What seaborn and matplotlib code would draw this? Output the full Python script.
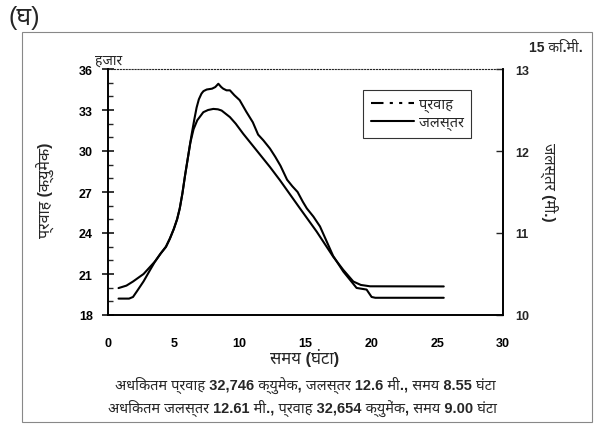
import matplotlib
matplotlib.use("Agg")
import numpy as np
import pandas as pd
import matplotlib.pyplot as plt
import seaborn as sns
from matplotlib.lines import Line2D
from matplotlib.patches import Rectangle
from matplotlib.ticker import MultipleLocator

# --- data ---
# flow in thousand cumec (left axis)
flow_time = [0.8, 1.4, 1.9, 2.7, 3.6, 4.0, 4.4, 4.7, 5.0, 5.25, 5.45, 5.65, 5.85, 6.05,
             6.25, 6.5, 6.78, 7.24, 7.6, 8.0, 8.35, 8.63, 9.26, 9.7, 10.27, 11.29, 12.3,
             13.06, 14.58, 15.85, 17.1, 17.87, 18.63, 19.2, 19.9, 25.5]
flow = [19.97, 20.15, 20.45, 21.0, 21.95, 22.5, 23.0, 23.6, 24.3, 25.0, 25.8, 26.9, 28.2, 29.4,
        30.6, 31.6, 32.25, 32.84, 33.0, 33.08, 33.05, 32.96, 32.48, 32.0, 31.26, 30.04, 28.83,
        27.86, 25.8, 24.1, 22.27, 21.3, 20.45, 20.2, 20.1, 20.09]

# water level in metres (right axis)
level_time = [0.8, 1.6, 1.9, 2.2, 2.7, 3.2, 3.6, 4.0, 4.4, 4.7, 5.0, 5.25, 5.45, 5.65, 5.85,
              6.05, 6.25, 6.35, 6.55, 6.73, 6.9, 7.1, 7.25, 7.5, 7.9, 8.15, 8.38, 8.6, 8.75,
              9.0, 9.26, 9.6, 10.0, 10.5, 11.0, 11.4, 11.8, 12.3, 12.7, 13.1, 13.6, 14.0,
              14.4, 14.8, 15.1, 15.6, 16.1, 16.6, 17.1, 17.87, 18.88, 19.64, 20.02, 20.3, 25.5]
level = [10.20, 10.20, 10.22, 10.29, 10.41, 10.55, 10.66, 10.75, 10.83, 10.93, 11.05, 11.17,
         11.30, 11.48, 11.70, 11.90, 12.10, 12.20, 12.38, 12.53, 12.63, 12.70, 12.73, 12.75,
         12.76, 12.78, 12.82, 12.78, 12.76, 12.74, 12.74, 12.68, 12.62, 12.48, 12.35, 12.20,
         12.13, 12.03, 11.93, 11.82, 11.65, 11.57, 11.50, 11.38, 11.30, 11.20, 11.08, 10.90,
         10.72, 10.53, 10.33, 10.31, 10.22, 10.21, 10.21]

x_ticks = [0, 5, 10, 15, 20, 25, 30]
flow_ticks = [18, 21, 24, 27, 30, 33, 36]
level_ticks = [10, 11, 12, 13]

note1 = "अधिकतम प्रवाह 32,746 क्युमेक, जलस्तर 12.6 मी., समय 8.55 घंटा"
note2 = "अधिकतम जलस्तर 12.61 मी., प्रवाह 32,654 क्युमेंक, समय 9.00 घंटा"

df_flow = pd.DataFrame({"time": flow_time, "flow": flow})
df_level = pd.DataFrame({"time": level_time, "level": level})

sns.set_style("white")
plt.rcParams["font.family"] = ["Liberation Sans", "Noto Sans Devanagari", "Yantramanav",
                               "DejaVu Sans"]

fig = plt.figure(figsize=(5.95, 4.27), dpi=100)
ax = fig.add_axes([108 / 595, 1 - 316 / 427, 395 / 595, 246 / 427])
ax2 = ax.twinx()

sns.lineplot(data=df_flow, x="time", y="flow", ax=ax, color="black", lw=1.5, legend=False)
sns.lineplot(data=df_level, x="time", y="level", ax=ax2, color="black", lw=1.5, legend=False)

ax.set_xlim(0, 30)
ax.set_ylim(18, 36)
ax2.set_ylim(10, 13)
ax.set_xticks(x_ticks)
ax.set_yticks(flow_ticks)
ax2.set_yticks(level_ticks)
ax.xaxis.set_minor_locator(MultipleLocator(1))
ax.yaxis.set_minor_locator(MultipleLocator(1))
ax.set_xlabel("")
ax.set_ylabel("")
ax2.set_ylabel("")

for s in ["left", "bottom", "right"]:
    for a in (ax, ax2):
        a.spines[s].set_linewidth(1.2)
        a.spines[s].set_color("black")
ax.spines["top"].set_linestyle(":")
ax.spines["top"].set_linewidth(0.8)
ax2.spines["top"].set_visible(False)

ax.tick_params(axis="both", which="major", direction="inout", length=8, width=1.1,
               labelsize=9, colors="black")
ax.tick_params(axis="both", which="minor", direction="in", length=3.5, width=1.0)
ax.tick_params(axis="x", which="both", top=False, pad=12)
ax.tick_params(axis="y", which="both", right=False, pad=7)
ax2.tick_params(axis="y", which="major", direction="in", length=5, width=1.0,
                labelsize=9, pad=9)
for lab in ax.get_xticklabels() + ax.get_yticklabels() + ax2.get_yticklabels():
    lab.set_fontweight("bold")

handles = [Line2D([], [], color="black", lw=1.5, dashes=(6, 3, 1.5, 3, 1.5, 3)),
           Line2D([], [], color="black", lw=1.5)]
leg = ax.legend(handles, ["प्रवाह", "जलस्तर"], loc="upper left",
                bbox_to_anchor=(0.628, 0.945), frameon=True, fancybox=False,
                prop={"size": 10.5, "weight": "semibold"},
                handlelength=3.0, handletextpad=0.3, borderpad=0.5, labelspacing=0.2)
leg.get_frame().set_edgecolor("black")
leg.get_frame().set_linewidth(0.8)

dev = dict(fontweight="semibold", va="center", ha="center")
fig.text(8 / 595, 1 - 18 / 427, "(घ)", fontsize=18, va="center", ha="left")
fig.text(109 / 595, 1 - 61 / 427, "हजार", fontsize=10, **dev)
fig.text(556 / 595, 1 - 48 / 427, "15 कि.मी.", fontsize=10, **dev)
fig.text(46 / 595, 1 - 190 / 427, "प्रवाह (क्युमेक)", fontsize=11.5, rotation=90, **dev)
fig.text(549 / 595, 1 - 182 / 427, "जलस्तर (मी.)", fontsize=11, rotation=-90, **dev)
fig.text(305 / 595, 1 - 358 / 427, "समय (घंटा)", fontsize=12, **dev)
fig.text(305 / 595, 1 - 385 / 427, note1, fontsize=10.5, **dev)
fig.text(302 / 595, 1 - 408 / 427, note2, fontsize=10.5, **dev)

fig.patches.append(Rectangle((22 / 595, 1 - 423 / 427), 570 / 595, 390 / 427,
                             transform=fig.transFigure, fill=False, edgecolor="#888888",
                             lw=0.8))

fig.savefig("out.png", dpi=100)
